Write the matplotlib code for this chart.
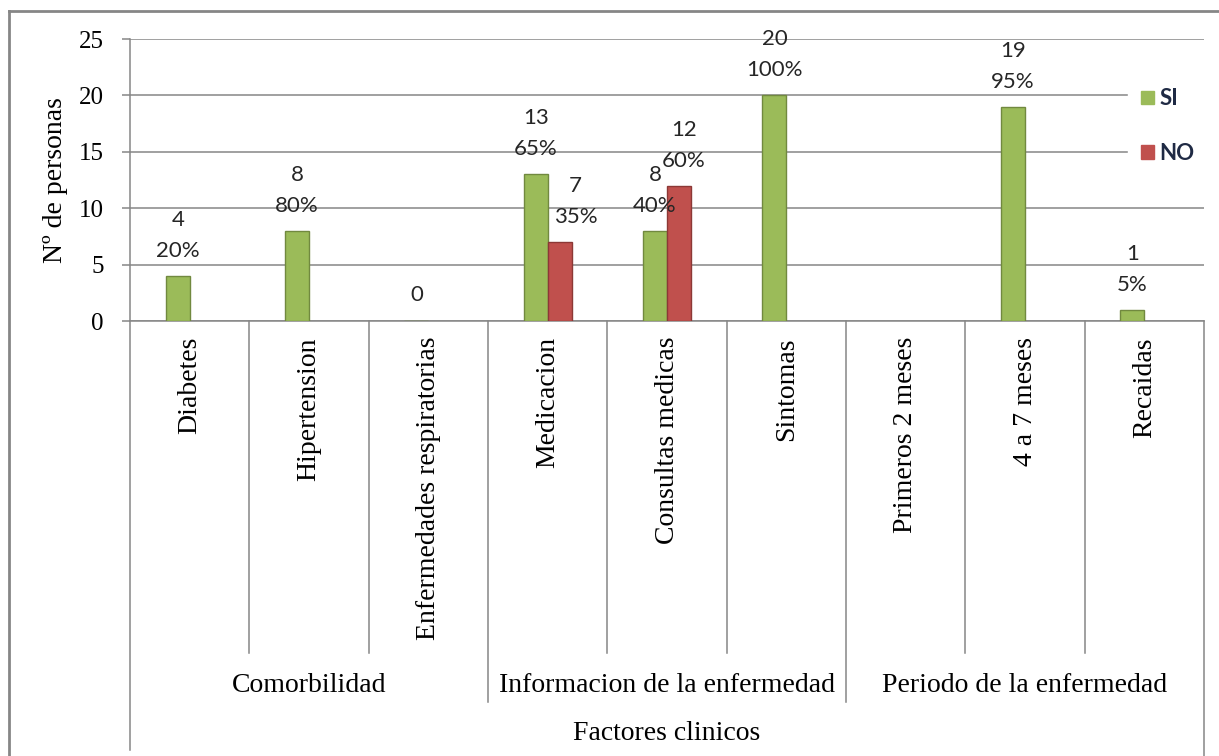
import numpy as np
import matplotlib
matplotlib.use("Agg")
import matplotlib.pyplot as plt
import matplotlib.transforms as mtransforms
from matplotlib.patches import Patch
from matplotlib.lines import Line2D

# datos del grafico
categorias = ['Diabetes', 'Hipertension', 'Enfermedades respiratorias',
              'Medicacion', 'Consultas medicas', 'Sintomas',
              'Primeros 2 meses', '4 a 7 meses', 'Recaidas']
grupos = ['Comorbilidad', 'Informacion de la enfermedad', 'Periodo de la enfermedad']
grupo_tam = [3, 3, 3]
si_vals = [4, 8, 0, 13, 8, 20, np.nan, 19, 1]
no_vals = [np.nan, np.nan, np.nan, 7, 12, np.nan, np.nan, np.nan, np.nan]
si_pct = ['20%', '80%', '', '65%', '40%', '100%', '', '95%', '5%']
no_pct = ['', '', '', '35%', '60%', '', '', '', '']

W, H = 1219, 756
SERIF = 'Liberation Serif'
SANS = 'Lato'
GRIS = '#868686'
VERDE, VERDE_B = '#9BBB59', '#71893F'
ROJO, ROJO_B = '#C0504D', '#8C3836'


def px(p):
    """pixeles -> puntos (dpi = 100)"""
    return p * 0.72


fig = plt.figure(figsize=(W / 100, H / 100), dpi=100)
ax_l, ax_r, ax_t, ax_b = 130, 1204, 39, 321
ax = fig.add_axes([ax_l / W, 1 - ax_b / H, (ax_r - ax_l) / W, (ax_b - ax_t) / H])

x = np.arange(len(categorias))
ancho = 0.2
si = np.array(si_vals, dtype=float)
no = np.array(no_vals, dtype=float)
ok_si = ~np.isnan(si)
ok_no = ~np.isnan(no)
ax.bar(x[ok_si] - ancho / 2, si[ok_si], ancho, color=VERDE, edgecolor=VERDE_B,
       linewidth=1, zorder=3)
ax.bar(x[ok_no] + ancho / 2, no[ok_no], ancho, color=ROJO, edgecolor=ROJO_B,
       linewidth=1, zorder=3)

ax.set_xlim(-0.5, len(categorias) - 0.5)
ax.set_ylim(0, 25)
ax.set_yticks(range(0, 26, 5))
ax.yaxis.grid(True, color=GRIS, linewidth=1.1)
ax.set_axisbelow(True)
for s in ['top', 'right', 'left']:
    ax.spines[s].set_visible(False)
ax.spines['bottom'].set_color(GRIS)
ax.spines['bottom'].set_linewidth(1.1)
ax.tick_params(axis='y', length=px(8), width=1.1, color=GRIS, pad=px(18),
               labelsize=18)
for t in ax.get_yticklabels():
    t.set_fontfamily(SERIF)
ax.set_xticks(x)
ax.set_xticklabels(categorias, rotation=90, va='top', ha='center',
                   fontfamily=SERIF, fontsize=20)
ax.tick_params(axis='x', length=0, pad=px(16))
ax.set_ylabel('Nº de personas', fontfamily=SERIF, fontsize=20)
ax.yaxis.set_label_coords((68 - ax_l) / (ax_r - ax_l), 0.5)

# etiquetas de datos (valor y porcentaje)
desplaz = {('NO', 3): 16, ('NO', 4): 5}
for serie, vals, pcts, dx in [('SI', si, si_pct, -ancho / 2), ('NO', no, no_pct, ancho / 2)]:
    for i, v in enumerate(vals):
        if np.isnan(v):
            continue
        sx = px(desplaz.get((serie, i), 0))
        if pcts[i]:
            ax.annotate(f'{int(v)}', (x[i] + dx, v), xytext=(sx, px(56)),
                        textcoords='offset points', ha='center', va='center',
                        fontfamily=SANS, fontsize=16, color='#262626')
            ax.annotate(pcts[i], (x[i] + dx, v), xytext=(sx, px(25)),
                        textcoords='offset points', ha='center', va='center',
                        fontfamily=SANS, fontsize=16, color='#262626')
        else:
            ax.annotate(f'{int(v)}', (x[i] + dx, v), xytext=(sx, px(26)),
                        textcoords='offset points', ha='center', va='center',
                        fontfamily=SANS, fontsize=16, color='#262626')

# eje de categorias en varios niveles
tr = mtransforms.blended_transform_factory(ax.transData, fig.transFigure)


def yf(p):
    return 1 - p / H


for i in range(len(categorias) - 1):
    fin = 653
    if i + 1 in np.cumsum(grupo_tam):
        fin = 702
    ax.add_line(Line2D([i + 0.5, i + 0.5], [yf(ax_b), yf(fin)], transform=tr,
                       color=GRIS, lw=1.1, clip_on=False))
ax.add_line(Line2D([-0.5, -0.5], [yf(ax_t), yf(750)], transform=tr,
                   color=GRIS, lw=1.1, clip_on=False))
ax.add_line(Line2D([len(categorias) - 0.5] * 2, [yf(ax_b), yf(H)], transform=tr,
                   color=GRIS, lw=1.1, clip_on=False))

ini = 0
for g, n in zip(grupos, grupo_tam):
    cx = ini + (n - 1) / 2
    ax.text(cx, yf(685), g, transform=tr, ha='center', va='center',
            fontfamily=SERIF, fontsize=20)
    ini += n
ax.text((len(categorias) - 1) / 2, yf(733), 'Factores clinicos', transform=tr,
        ha='center', va='center', fontfamily=SERIF, fontsize=20)

# leyenda
handles = [Patch(facecolor=VERDE, edgecolor=VERDE), Patch(facecolor=ROJO, edgecolor=ROJO)]
leg = ax.legend(handles, ['SI', 'NO'], loc='upper left',
                bbox_to_anchor=(1128 / W, yf(75)), bbox_transform=fig.transFigure,
                borderaxespad=0, frameon=True, fancybox=False, framealpha=1,
                facecolor='white', edgecolor='white', handlelength=0.55,
                handleheight=0.55, handletextpad=0.25, labelspacing=1.5,
                borderpad=0.6, prop={'family': SANS, 'size': 16, 'weight': 'bold'})
for t in leg.get_texts():
    t.set_color('#1F2A44')

# marco exterior
fig.add_artist(Line2D([9 / W, 1], [yf(11), yf(11)], color=GRIS, lw=2))
fig.add_artist(Line2D([9 / W, 9 / W], [yf(11), 0], color=GRIS, lw=2))

fig.savefig('out.png', dpi=100)
